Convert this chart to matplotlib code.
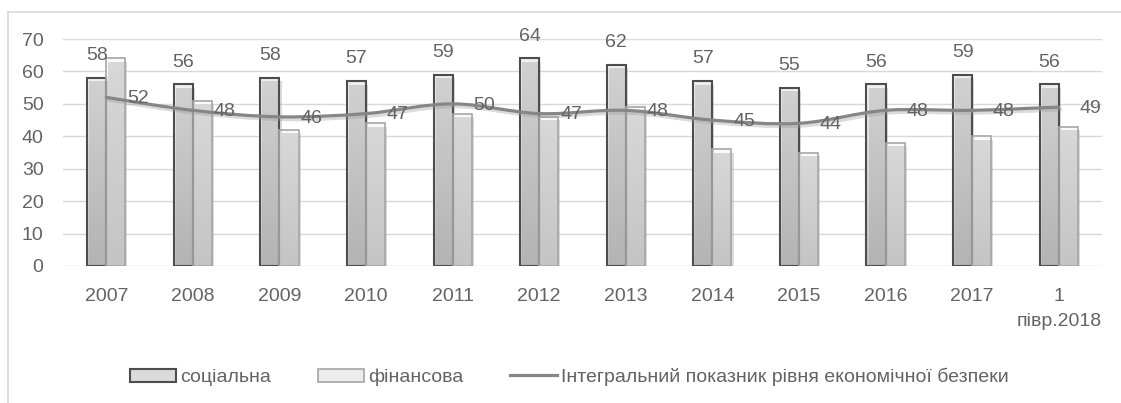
import numpy as np
import matplotlib
matplotlib.use("Agg")
import matplotlib.pyplot as plt
from matplotlib.colors import LinearSegmentedColormap
from matplotlib.path import Path
from matplotlib.patches import PathPatch, Patch
from matplotlib.lines import Line2D
import matplotlib.patheffects as pe

# data
categories = ['2007', '2008', '2009', '2010', '2011', '2012', '2013',
              '2014', '2015', '2016', '2017', '1\nпівр.2018']
social = [58, 56, 58, 57, 59, 64, 62, 57, 55, 56, 59, 56]
financial = [64, 51, 42, 44, 47, 46, 49, 36, 35, 38, 40, 43]
integral = [52, 48, 46, 47, 50, 47, 48, 45, 44, 48, 48, 49]

plt.rcParams['font.family'] = ['Liberation Sans', 'DejaVu Sans']
txt = '#636363'
fs = 14

fig = plt.figure(figsize=(11.21, 4.03), dpi=100)
ax = fig.add_axes([63 / 1121, 1 - 266 / 403, (1102 - 63) / 1121, (266 - 39) / 403])

x = np.arange(len(categories))
w = 0.22

cmap_soc = LinearSegmentedColormap.from_list('soc', ['#f0f0f0', '#c2c2c2'])
cmap_fin = LinearSegmentedColormap.from_list('fin', ['#fbfbfb', '#dcdcdc'])
grad = np.linspace(0, 1, 256).reshape(-1, 1)

def gradient_bars(xs, vals, cmap, edge, lw):
    bars = ax.bar(xs, vals, w, facecolor='none', edgecolor=edge, linewidth=lw, zorder=3,
                  path_effects=[pe.SimplePatchShadow(offset=(1.5, -2.5), shadow_rgbFace='#999999', alpha=0.35),
                                pe.Normal()])
    for b in bars:
        x0, y0 = b.get_x(), b.get_y()
        im = ax.imshow(grad, cmap=cmap, aspect='auto', origin='upper', zorder=2.9,
                       extent=[x0, x0 + b.get_width(), y0, y0 + b.get_height()])
        im.set_clip_path(b)
    return bars

soc_bars = gradient_bars(x - w / 2, social, cmap_soc, '#4d4d4d', 1.5)
fin_bars = gradient_bars(x + w / 2, financial, cmap_fin, '#a6a6a6', 1.2)

# smoothed line through the integral values (Excel-style smoothing)
pts = np.column_stack([x, integral]).astype(float)
verts = [pts[0]]
codes = [Path.MOVETO]
n = len(pts)
for i in range(n - 1):
    p0 = pts[max(i - 1, 0)]
    p1 = pts[i]
    p2 = pts[i + 1]
    p3 = pts[min(i + 2, n - 1)]
    c1 = p1 + (p2 - p0) / 6
    c2 = p2 - (p3 - p1) / 6
    verts += [c1, c2, p2]
    codes += [Path.CURVE4] * 3
line = PathPatch(Path(verts, codes), facecolor='none', edgecolor='#868686', linewidth=2.3, zorder=4,
                 capstyle='round', joinstyle='round',
                 path_effects=[pe.SimpleLineShadow(offset=(1.5, -2), shadow_color='#999999', alpha=0.35),
                               pe.Normal()])
ax.add_patch(line)

# data labels
for xi, v in zip(x, social):
    ax.annotate(str(v), (xi - w / 2, v), xytext=(0, 10), textcoords='offset points',
                ha='center', va='bottom', fontsize=fs, color=txt, zorder=5)
for xi, v in zip(x, integral):
    ax.annotate(str(v), (xi, v), xytext=(15, -1), textcoords='offset points',
                ha='left', va='center', fontsize=fs, color=txt, zorder=5)

ax.set_xlim(-0.5, len(categories) - 0.5)
ax.set_ylim(0, 70)
ax.set_yticks(range(0, 71, 10))
ax.set_xticks(x)
ax.set_xticklabels(categories)
ax.tick_params(axis='both', length=0, labelsize=fs, labelcolor=txt)
ax.tick_params(axis='x', pad=16)
ax.tick_params(axis='y', pad=14)
ax.get_xticklabels()[-1].set_linespacing(1.6)
ax.grid(axis='y', color='#d9d9d9', linewidth=1)
ax.set_axisbelow(True)
for s in ax.spines.values():
    s.set_visible(False)

# legend
handles = [Patch(facecolor='#dadada', edgecolor='#4d4d4d', linewidth=1.5),
           Patch(facecolor='#ededed', edgecolor='#a6a6a6', linewidth=1.2),
           Line2D([], [], color='#868686', linewidth=2.3)]
labels = ['соціальна', 'фінансова', 'Інтегральний показник рівня економічної безпеки']
fig.legend(handles, labels, loc='center', bbox_to_anchor=(569 / 1121, 1 - 377 / 403), ncol=3,
           frameon=False, fontsize=fs, labelcolor=txt, handlelength=2.4, handleheight=0.7,
           handletextpad=0.2, columnspacing=2.4)

# chart frame (only the top and left edges are inside the picture)
fig.add_artist(Line2D([8 / 1121, 1], [1 - 12 / 403, 1 - 12 / 403], color='#d9d9d9', linewidth=1.2,
                      transform=fig.transFigure))
fig.add_artist(Line2D([8 / 1121, 8 / 1121], [0, 1 - 12 / 403], color='#d9d9d9', linewidth=1.2,
                      transform=fig.transFigure))

fig.savefig('out.png', dpi=100)
